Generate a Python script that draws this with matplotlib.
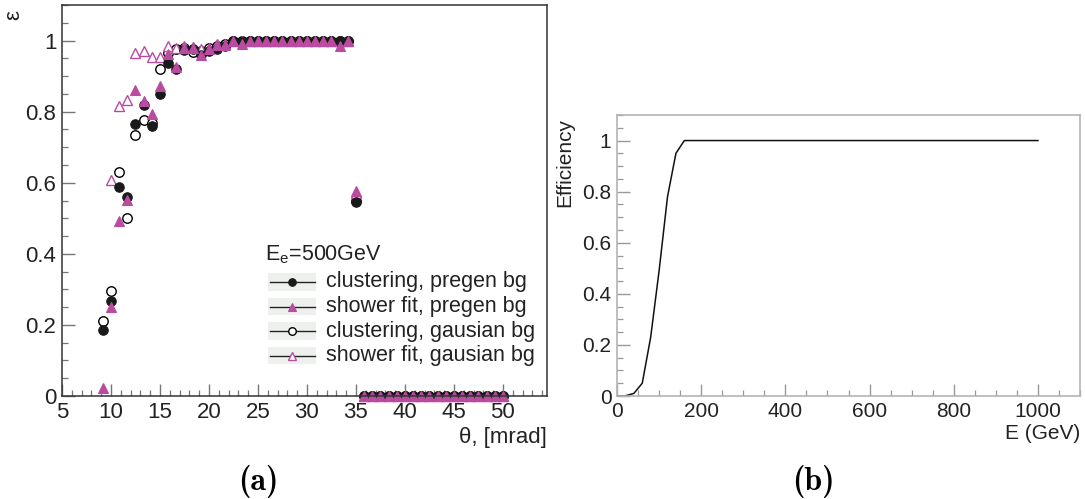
import numpy as np
import matplotlib
matplotlib.use("Agg")
import matplotlib.pyplot as plt
from matplotlib.lines import Line2D
from matplotlib.patches import Rectangle
from matplotlib.ticker import MultipleLocator

plt.rcParams['font.family'] = ['Liberation Sans', 'DejaVu Sans']

# ---- (a) reconstruction efficiency vs polar angle, E_e = 500 GeV ----
theta = [9.17, 10.0, 10.83, 11.67, 12.5, 13.33, 14.17, 15.0, 15.83, 16.67,
         17.5, 18.33, 19.17, 20.0, 20.83, 21.67, 22.5, 23.33, 24.17, 25.0,
         25.83, 26.67, 27.5, 28.33, 29.17, 30.0, 30.83, 31.67, 32.5, 33.33,
         34.17, 35.0, 35.83, 36.67, 37.5, 38.33, 39.17, 40.0, 40.83, 41.67,
         42.5, 43.33, 44.17, 45.0, 45.83, 46.67, 47.5, 48.33, 49.17, 50.0]

clus_pregen = [0.186, 0.268, 0.588, 0.560, 0.766, 0.820, 0.759, 0.850, 0.937, 0.921,
               0.972, 0.975, 0.958, 0.970, 0.975, 0.986, 0.998, 0.996, 1.0, 1.0,
               1.0, 1.0, 1.0, 1.0, 1.0, 1.0, 1.0, 1.0, 1.0, 1.0,
               1.0, 0.545, 0, 0, 0, 0, 0, 0, 0, 0,
               0, 0, 0, 0, 0, 0, 0, 0, 0, 0]

fit_pregen = [0.023, 0.250, 0.493, 0.552, 0.862, 0.831, 0.792, 0.873, 0.963, 0.925,
              0.978, 0.978, 0.958, 0.975, 0.988, 0.987, 1.0, 0.991, 1.0, 1.0,
              1.0, 1.0, 1.0, 1.0, 1.0, 1.0, 1.0, 1.0, 1.0, 0.985,
              1.0, 0.578, 0, 0, 0, 0, 0, 0, 0, 0,
              0, 0, 0, 0, 0, 0, 0, 0, 0, 0]

clus_gaus = [0.212, 0.294, 0.630, 0.500, 0.733, 0.777, 0.768, 0.920, 0.965, 0.975,
             0.980, 0.967, 0.970, 0.980, 0.985, 0.990, 1.0, 1.0, 1.0, 1.0,
             1.0, 1.0, 1.0, 1.0, 1.0, 1.0, 1.0, 1.0, 1.0, 1.0,
             1.0, 0.550, 0, 0, 0, 0, 0, 0, 0, 0,
             0, 0, 0, 0, 0, 0, 0, 0, 0, 0]

fit_gaus = [np.nan, 0.608, 0.817, 0.834, 0.965, 0.970, 0.954, 0.954, 0.984, 0.979,
            0.984, 0.982, 0.977, 0.980, 0.990, 0.990, 1.0, 1.0, 1.0, 1.0,
            1.0, 1.0, 1.0, 1.0, 1.0, 1.0, 1.0, 1.0, 1.0, 1.0,
            1.0, 0.570, 0, 0, 0, 0, 0, 0, 0, 0,
            0, 0, 0, 0, 0, 0, 0, 0, 0, 0]

legend_title = r"E$_\mathregular{e}$=500GeV"
legend_labels = ["clustering, pregen bg", "shower fit, pregen bg",
                 "clustering, gausian bg", "shower fit, gausian bg"]

# ---- (b) trigger efficiency vs energy ----
energy = [0, 20, 40, 60, 80, 100, 120, 140, 160, 180, 1000]
efficiency = [0.0, 0.001, 0.01, 0.05, 0.23, 0.49, 0.78, 0.95, 1.0, 1.0, 1.0]

MAG = '#b94ba0'
W, H = 1085, 499
fig = plt.figure(figsize=(W / 100, H / 100), dpi=100)


def px_axes(x0, x1, y0, y1):
    return fig.add_axes([x0 / W, 1 - y1 / H, (x1 - x0) / W, (y1 - y0) / H])


TICK_FS = 16
styles = [
    dict(data=clus_gaus, marker='o', ms=6.8, mfc='white', mec='black', mew=1.0),
    dict(data=fit_gaus, marker='^', ms=7.8, mfc='white', mec=MAG, mew=1.0),
    dict(data=clus_pregen, marker='o', ms=6.8, mfc='#1a1a1a', mec='#1a1a1a', mew=0.8),
    dict(data=fit_pregen, marker='^', ms=7.8, mfc=MAG, mec=MAG, mew=0.8),
]

ax = px_axes(62, 547, 5, 396)
for st in styles:
    ax.plot(theta, st['data'], ls='none', marker=st['marker'], ms=st['ms'],
            mfc=st['mfc'], mec=st['mec'], mew=st['mew'], clip_on=False)
ax.set_xlim(5, 54.5)
ax.set_ylim(0, 1.1)
ax.xaxis.set_minor_locator(MultipleLocator(1))
ax.yaxis.set_minor_locator(MultipleLocator(0.05))
ax.set_xticks([5, 10, 15, 20, 25, 30, 35, 40, 45, 50])
ax.set_yticks([0, 0.2, 0.4, 0.6, 0.8, 1.0])
ax.set_yticklabels(['0', '0.2', '0.4', '0.6', '0.8', '1'])
for s in ax.spines.values():
    s.set_color('#333333')
    s.set_linewidth(1.1)
ax.tick_params(which='both', direction='in', top=False, right=False,
               color='#777777', labelsize=TICK_FS, labelcolor='#222222')
ax.tick_params(which='major', length=9, width=1.0, pad=4)
ax.tick_params(which='minor', length=4.5, width=0.9)
ax.text(1.0, -0.105, "θ, [mrad]", transform=ax.transAxes, ha='right', va='center',
        fontsize=TICK_FS, color='#222222')
ax.text(-0.099, 0.975, "ε", transform=ax.transAxes, ha='center', va='center',
        rotation=90, fontsize=TICK_FS, color='#222222')


# legend block, placed in pixel units of the left frame
def fx(x):
    return (x - 62) / 485


def fy(y):
    return (396 - y) / 391


ax.text(fx(265), fy(260), legend_title, transform=ax.transAxes, ha='left',
        va='baseline', fontsize=15.5, color='#222222')
rows = [282, 306.5, 331, 355.5]
order = [2, 3, 0, 1]
for yrow, idx, lab in zip(rows, order, legend_labels):
    st = styles[idx]
    ax.add_patch(Rectangle((fx(268), fy(yrow) - 0.023), 48 / 485, 0.046,
                           transform=ax.transAxes, facecolor='#eef0ee',
                           edgecolor='none', clip_on=False))
    ax.add_line(Line2D([fx(270), fx(315)], [fy(yrow), fy(yrow)],
                       transform=ax.transAxes, color='#222222', lw=1.0, clip_on=False))
    ax.add_line(Line2D([fx(292)], [fy(yrow)], transform=ax.transAxes, ls='none',
                       marker=st['marker'], ms=st['ms'] * 0.8, mfc=st['mfc'],
                       mec=st['mec'], mew=st['mew'], clip_on=False))
    ax.text(fx(326), fy(yrow), lab, transform=ax.transAxes, ha='left', va='center',
            fontsize=15.5, color='#222222')

# ---- right panel ----
bx = px_axes(617, 1080, 115, 396)
bx.plot(energy, efficiency, color='#111111', lw=1.1)
bx.set_xlim(0, 1100)
bx.set_ylim(0, 1.1)
bx.set_xticks([0, 200, 400, 600, 800, 1000])
bx.xaxis.set_minor_locator(MultipleLocator(50))
bx.set_yticks([0, 0.2, 0.4, 0.6, 0.8, 1.0])
bx.set_yticklabels(['0', '0.2', '0.4', '0.6', '0.8', '1'])
bx.yaxis.set_minor_locator(MultipleLocator(0.05))
for s in bx.spines.values():
    s.set_color('#b4b4b4')
    s.set_linewidth(1.2)
bx.tick_params(which='both', direction='in', top=False, right=False,
               color='#999999', labelsize=TICK_FS - 1, labelcolor='#222222')
bx.tick_params(which='major', length=9, width=1.0, pad=4)
bx.tick_params(which='minor', length=4.5, width=0.9)
bx.text(1.0, -0.132, "E (GeV)", transform=bx.transAxes, ha='right', va='center',
        fontsize=TICK_FS - 1, color='#222222')
bx.text(-0.112, 0.99, "Efficiency", transform=bx.transAxes, ha='center', va='top',
        rotation=90, fontsize=TICK_FS - 1, color='#222222')

# sub-captions in bold Computer Modern
fig.text(258 / W, 1 - 481 / H, "(a)", ha='center', va='center',
         fontsize=23, family='cmb10')
fig.text(813 / W, 1 - 481 / H, "(b)", ha='center', va='center',
         fontsize=23, family='cmb10')

fig.savefig("out.png", dpi=100)
